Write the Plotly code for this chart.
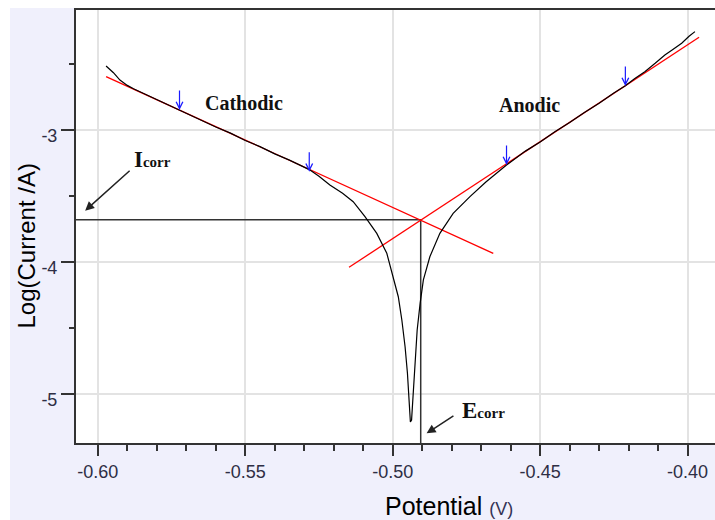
import plotly.graph_objects as go

# ---------------- data ----------------
potential = [-0.5972, -0.5960, -0.5947, -0.5925, -0.5900, -0.5879, -0.5850, -0.5800,
             -0.5750, -0.5700, -0.5650, -0.5600, -0.5550, -0.5500, -0.5450, -0.5400,
             -0.5350, -0.5300, -0.5283, -0.5250, -0.5213, -0.5170, -0.5134, -0.5094,
             -0.5054, -0.5020, -0.4998, -0.4981, -0.4969, -0.4958, -0.4950, -0.4944,
             -0.4940, -0.4936, -0.4930, -0.4924, -0.4917, -0.4907, -0.4896, -0.4874,
             -0.4840, -0.4795, -0.4738, -0.4684, -0.4650, -0.4614, -0.4550, -0.4500,
             -0.4450, -0.4400, -0.4350, -0.4300, -0.4250, -0.4211, -0.4180, -0.4145,
             -0.4110, -0.4077, -0.4050, -0.4020, -0.3995, -0.3975]
log_current = [-2.515, -2.540, -2.566, -2.622, -2.662, -2.688, -2.718, -2.773,
               -2.820, -2.875, -2.922, -2.977, -3.024, -3.079, -3.126, -3.181,
               -3.228, -3.283, -3.300, -3.350, -3.417, -3.480, -3.543, -3.657,
               -3.783, -3.934, -4.111, -4.263, -4.439, -4.642, -4.843, -5.020,
               -5.212, -5.197, -4.995, -4.793, -4.515, -4.313, -4.136, -3.960,
               -3.783, -3.631, -3.505, -3.394, -3.330, -3.265, -3.160, -3.091,
               -3.013, -2.944, -2.867, -2.797, -2.720, -2.665, -2.612, -2.558,
               -2.495, -2.432, -2.390, -2.343, -2.290, -2.255]

cathodic_fit_x = [-0.5972, -0.4659]
cathodic_fit_y = [-2.596, -3.934]
anodic_fit_x = [-0.5148, -0.3961]
anodic_fit_y = [-4.040, -2.298]

tafel_x = [-0.5723, -0.5283, -0.4614, -0.4211]
tafel_y = [-2.848, -3.316, -3.265, -2.667]

e_corr = -0.4905
log_i_corr = -3.68

x_tickvals = [-0.60, -0.55, -0.50, -0.45, -0.40]
x_ticktext = ["-0.60", "-0.55", "-0.50", "-0.45", "-0.40"]
y_tickvals = [-3, -4, -5]
y_ticktext = ["-3", "-4", "-5"]
y_minorvals = [-2.5, -3.5, -4.5]

x_range = [-0.6074, -0.3907]
y_range = [-5.371, -2.091]

# ---------------- figure ----------------
fig = go.Figure()

# guide lines for Icorr / Ecorr
fig.add_trace(go.Scatter(x=[x_range[0], e_corr, e_corr],
                         y=[log_i_corr, log_i_corr, y_range[0]],
                         mode="lines", line=dict(color="#333333", width=1.5),
                         hoverinfo="skip", showlegend=False, cliponaxis=False))

fig.add_trace(go.Scatter(x=cathodic_fit_x, y=cathodic_fit_y, mode="lines",
                         line=dict(color="#ff0000", width=1.3), showlegend=False))
fig.add_trace(go.Scatter(x=anodic_fit_x, y=anodic_fit_y, mode="lines",
                         line=dict(color="#ff0000", width=1.3), showlegend=False))
fig.add_trace(go.Scatter(x=potential, y=log_current, mode="lines",
                         line=dict(color="#000000", width=1.2), showlegend=False))

annotations = []
# blue Tafel-range arrows
for tx, ty in zip(tafel_x, tafel_y):
    annotations.append(dict(x=tx, y=ty, xref="x", yref="y", ax=0, ay=-21,
                            showarrow=True, arrowhead=5, arrowsize=1.1,
                            arrowwidth=1.2, arrowcolor="#1a1aff", text=""))

serif = "Liberation Serif, Times New Roman, serif"
annotations += [
    dict(x=-0.5504, y=-2.795, xref="x", yref="y", showarrow=False,
         text="<b>Cathodic</b>", font=dict(family=serif, size=20, color="#111111")),
    dict(x=-0.4536, y=-2.811, xref="x", yref="y", showarrow=False,
         text="<b>Anodic</b>", font=dict(family=serif, size=20, color="#111111")),
    # Icorr
    dict(x=-0.6043, y=-3.611, ax=-0.5887, ay=-3.298, xref="x", yref="y",
         axref="x", ayref="y", showarrow=True, arrowhead=2, arrowsize=1.2,
         arrowwidth=1.5, arrowcolor="#222222", text=""),
    dict(x=-0.5885, y=-3.225, xref="x", yref="y", showarrow=False, xanchor="left",
         text="<b>I<span style='font-size:15px'>corr</span></b>",
         font=dict(family=serif, size=23, color="#111111")),
    # Ecorr
    dict(x=-0.4885, y=-5.298, ax=-0.4789, ay=-5.159, xref="x", yref="y",
         axref="x", ayref="y", showarrow=True, arrowhead=2, arrowsize=1.2,
         arrowwidth=1.5, arrowcolor="#222222", text=""),
    dict(x=-0.4772, y=-5.125, xref="x", yref="y", showarrow=False, xanchor="left",
         text="<b>E<span style='font-size:15px'>corr</span></b>",
         font=dict(family=serif, size=23, color="#111111")),
    # axis titles
    dict(x=(26 - 76) / 639, y=(443 - 246.5) / 433, xref="paper", yref="paper",
         xanchor="center", yanchor="middle",
         showarrow=False, textangle=-90, text="Log(Current /A)",
         font=dict(family="Liberation Sans, Arial, sans-serif", size=24, color="#000000")),
    dict(x=(449 - 76) / 639, y=(443 - 506) / 433, xref="paper", yref="paper",
         xanchor="center", yanchor="middle",
         showarrow=False,
         text="Potential <span style='font-size:18px;color:#333355'>(V)</span>",
         font=dict(family="Liberation Sans, Arial, sans-serif", size=25, color="#000000")),
]

shapes = [
    dict(type="rect", xref="paper", yref="paper", x0=-0.2, x1=(10 - 76) / 639,
         y0=-0.3, y1=1.1, fillcolor="white", line=dict(width=0), layer="below"),
    dict(type="rect", xref="paper", yref="paper", x0=-0.2, x1=1.1,
         y0=(443 - 8) / 433, y1=1.1, fillcolor="white", line=dict(width=0), layer="below"),
]

tickfont = dict(family="Liberation Sans, Arial, sans-serif", size=18, color="#2e2e44")

fig.update_layout(
    width=715, height=520,
    margin=dict(l=76, r=0, t=10, b=77),
    paper_bgcolor="#F0F0FC",
    plot_bgcolor="white",
    showlegend=False,
    annotations=annotations,
    shapes=shapes,
    xaxis=dict(range=x_range, tickvals=x_tickvals, ticktext=x_ticktext,
               ticks="outside", ticklen=11, tickwidth=1.5, tickcolor="#333333",
               showgrid=True, gridcolor="#e3e3e3", gridwidth=1.5,
               showline=True, linecolor="#333333", linewidth=2, mirror=True,
               zeroline=False, tickfont=tickfont,
               minor=dict(dtick=0.01, tick0=-0.60, ticks="outside", ticklen=6,
                          tickwidth=1.5, tickcolor="#333333", showgrid=False)),
    yaxis=dict(range=y_range, tickvals=y_tickvals, ticktext=y_ticktext,
               ticks="outside", ticklen=13, tickwidth=1.5, tickcolor="#333333",
               showgrid=True, gridcolor="#e3e3e3", gridwidth=1.5,
               showline=True, linecolor="#333333", linewidth=2,
               zeroline=False, tickfont=tickfont, ticklabelshift=6,
               minor=dict(tickvals=y_minorvals, ticks="outside", ticklen=5,
                          tickwidth=1.5, tickcolor="#333333", showgrid=False)),
)

fig.write_html("out.html")
